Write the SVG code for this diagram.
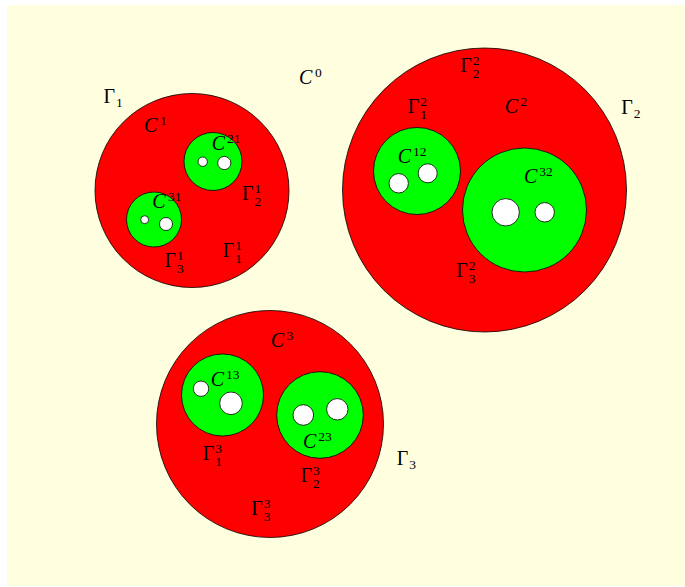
<svg xmlns="http://www.w3.org/2000/svg" width="685" height="587" viewBox="0 0 685 587">
<style>
.bg{fill:#FFFFE0}
.r{fill:#FF0000;stroke:#000;stroke-width:0.8}
.g{fill:#00FF00;stroke:#000;stroke-width:0.8}
.w{fill:#FFFFFF;stroke:#000;stroke-width:0.8}
text{font-family:"Liberation Serif","DejaVu Serif",serif;font-size:20px;fill:#000}
.i{font-style:italic}
.s{font-size:13.5px;font-style:normal}
</style>
<rect class="bg" x="7" y="5" width="678" height="581"/>

<g id="C0-label">
<text x="299" y="84"><tspan class="i">C</tspan><tspan class="s" x="315" y="77">0</tspan></text>
</g>

<g id="C1">
<circle class="r" cx="192" cy="190.5" r="97"/>
<g id="C21">
<circle class="g" cx="213" cy="161.5" r="29"/>
<circle class="w" cx="202.7" cy="161.7" r="4.7"/>
<circle class="w" cx="224.3" cy="163" r="6.6"/>
</g>
<g id="C31">
<circle class="g" cx="154" cy="219.5" r="27.5"/>
<circle class="w" cx="144.7" cy="219.7" r="4"/>
<circle class="w" cx="166" cy="224" r="6.5"/>
</g>
<text x="103.5" y="103">Γ<tspan class="s" x="116" y="107">1</tspan></text>
<text x="144" y="132"><tspan class="i">C</tspan><tspan class="s" x="160" y="125">1</tspan></text>
<text x="211.7" y="150"><tspan class="i">C</tspan><tspan class="s" x="227" y="143">21</tspan></text>
<text x="152.3" y="208"><tspan class="i">C</tspan><tspan class="s" x="168" y="201">31</tspan></text>
<text x="242" y="200">Γ<tspan class="s" x="254.5" y="193">1</tspan><tspan class="s" x="254.5" y="206">2</tspan></text>
<text x="222.8" y="256.7">Γ<tspan class="s" x="235.3" y="249.7">1</tspan><tspan class="s" x="235.3" y="262.7">1</tspan></text>
<text x="164.5" y="266.7">Γ<tspan class="s" x="177" y="259.7">1</tspan><tspan class="s" x="177" y="272.7">3</tspan></text>
</g>

<g id="C2">
<circle class="r" cx="484.5" cy="190" r="142"/>
<g id="C12">
<circle class="g" cx="417" cy="171" r="43.5"/>
<circle class="w" cx="398.7" cy="183.3" r="9.7"/>
<circle class="w" cx="427.7" cy="173.3" r="9.5"/>
</g>
<g id="C32">
<circle class="g" cx="524.5" cy="210" r="62"/>
<circle class="w" cx="505.7" cy="212.3" r="13.7"/>
<circle class="w" cx="544.7" cy="212.3" r="9.7"/>
</g>
<text x="460.2" y="71.7">Γ<tspan class="s" x="472.7" y="64.7">2</tspan><tspan class="s" x="472.7" y="77.7">2</tspan></text>
<text x="407.8" y="112.7">Γ<tspan class="s" x="420.3" y="105.7">2</tspan><tspan class="s" x="420.3" y="118.7">1</tspan></text>
<text x="504.7" y="112.7"><tspan class="i">C</tspan><tspan class="s" x="520.5" y="105.7">2</tspan></text>
<text x="621.2" y="114">Γ<tspan class="s" x="633.7" y="118">2</tspan></text>
<text x="397.7" y="162.7"><tspan class="i">C</tspan><tspan class="s" x="413" y="155.7">12</tspan></text>
<text x="524" y="182.7"><tspan class="i">C</tspan><tspan class="s" x="539.3" y="175.7">32</tspan></text>
<text x="456.2" y="276.7">Γ<tspan class="s" x="468.7" y="269.7">2</tspan><tspan class="s" x="468.7" y="282.7">3</tspan></text>
</g>

<g id="C3">
<circle class="r" cx="270" cy="424" r="113.5"/>
<g id="C13">
<circle class="g" cx="222.5" cy="395" r="41"/>
<circle class="w" cx="201" cy="388.7" r="7.7"/>
<circle class="w" cx="231" cy="403.3" r="11.3"/>
</g>
<g id="C23">
<circle class="g" cx="320" cy="415" r="43.3"/>
<circle class="w" cx="303.3" cy="415" r="10.3"/>
<circle class="w" cx="337.3" cy="409.3" r="10.7"/>
</g>
<text x="270.7" y="346.7"><tspan class="i">C</tspan><tspan class="s" x="286.5" y="339.7">3</tspan></text>
<text x="210.7" y="385.7"><tspan class="i">C</tspan><tspan class="s" x="226" y="378.7">13</tspan></text>
<text x="303" y="448.3"><tspan class="i">C</tspan><tspan class="s" x="318.3" y="441.3">23</tspan></text>
<text x="202.8" y="460">Γ<tspan class="s" x="215.3" y="453">3</tspan><tspan class="s" x="215.3" y="466">1</tspan></text>
<text x="300.5" y="481.7">Γ<tspan class="s" x="313" y="474.7">3</tspan><tspan class="s" x="313" y="487.7">2</tspan></text>
<text x="396.8" y="465">Γ<tspan class="s" x="409.3" y="469">3</tspan></text>
<text x="251.2" y="515">Γ<tspan class="s" x="263.7" y="508">3</tspan><tspan class="s" x="263.7" y="521">3</tspan></text>
</g>
</svg>
